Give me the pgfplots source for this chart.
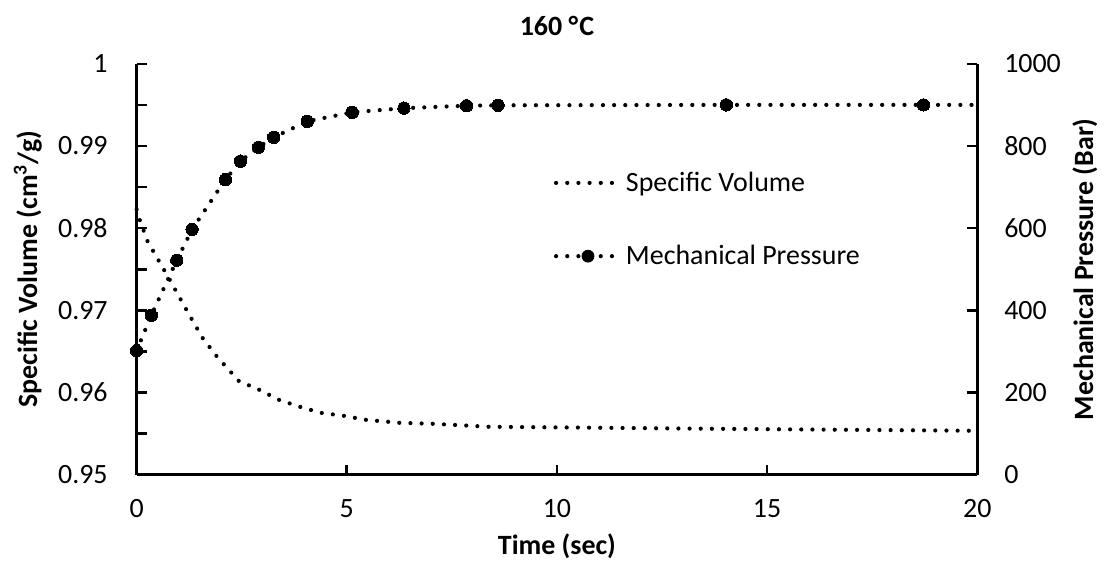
\documentclass[border=0pt]{standalone}
\usepackage{pgfplots}
\pgfplotsset{compat=1.18}
\usepackage{fontspec}
\setmainfont{Carlito}
\begin{document}
\begin{tikzpicture}[font=\fontsize{14}{16}\selectfont]
\tikzset{dotline/.style={line width=2.1pt, line cap=round, dash pattern=on 0pt off 5.6pt, black}}
\begin{axis}[
  scale only axis, width=421.5pt, height=206pt,
  xmin=0, xmax=20, ymin=0.95, ymax=1,
  axis y line*=left, axis x line*=bottom,
  axis line style={line width=1.3pt},
  xtick={0,5,10,15,20},
  ytick={0.95,0.96,0.97,0.98,0.99,1},
  minor ytick={0.955,0.965,0.975,0.985,0.995},
  yticklabels={0.95,0.96,0.97,0.98,0.99,1},
  tick style={line width=1.3pt, black},
  major tick length=5pt, minor tick length=5pt,
  tick align=inside,
  /pgf/number format/assume math mode=true,
  yticklabel style={xshift=-11pt},
  xticklabel style={yshift=-9pt},
  xlabel={\bfseries Time (sec)},
  ylabel={\bfseries Specific Volume (cm\textsuperscript{3}/g)},
  xlabel style={at={(axis description cs:0.5,-0.1748)}, anchor=center},
  ylabel style={at={(axis description cs:-0.1293,0.5)}, anchor=center},
  title={\bfseries 160 °\kern0.6pt C},
  title style={at={(axis description cs:0.5,1.063)}, anchor=center},
  clip=false,
]
\coordinate (sw) at (rel axis cs:0,0);
\coordinate (ne) at (rel axis cs:1,1);
\addplot[dotline] coordinates {
(0,0.98228) (0.07,0.98107) (0.26,0.97840) (0.78,0.97379) (1.19,0.97002)
(1.57,0.96663) (1.90,0.96444) (2.26,0.96238) (2.43,0.96141) (2.92,0.96032)
(3.39,0.95910) (3.89,0.95825) (4.39,0.95752) (4.93,0.95716) (5.46,0.95667)
(6.26,0.95631) (7.05,0.95619) (8.37,0.95583) (13.35,0.95560) (20,0.95534)
};
\end{axis}
\begin{axis}[
  scale only axis, width=421.5pt, height=206pt,
  xmin=0, xmax=20, ymin=0, ymax=1000,
  axis y line*=right, axis x line=none,
  axis line style={line width=1.3pt},
  ytick={0,200,400,600,800,1000},
  tick style={line width=1.3pt, black},
  major tick length=5pt,
  tick align=inside,
  /pgf/number format/assume math mode=true,
  /pgf/number format/1000 sep={},
  yticklabel style={xshift=10pt},
  ylabel={\bfseries Mechanical Pressure (Bar)},
  ylabel style={at={(axis description cs:1.128,0.5)}, anchor=center},
  legend style={draw=none, fill=none, at={(0.496,0.748)}, anchor=north west,
    font=\fontsize{14}{16}\selectfont, row sep=21.5pt, inner sep=0pt},
  legend cell align=left,
  legend image code/.code={\draw[#1] (0pt,0pt) -- (32pt,0pt);},
  clip=false,
]
\addlegendimage{dotline}
\addlegendentry{Specific Volume}
\addlegendimage{legend image code/.code={\draw[dotline] (0pt,0pt) -- (32pt,0pt); \fill[black] (16pt,0pt) circle (3pt);}}
\addlegendentry{Mechanical Pressure}
\addplot[dotline, mark=*, mark size=3.1pt, mark options={solid, fill=black, line width=0pt},
  mark indices={1,...,15}] coordinates {
(0,302) (0.35,388) (0.956,522) (1.32,597) (2.11,718) (2.47,763) (2.90,797)
(3.26,821) (4.06,860) (5.13,882) (6.36,892) (7.85,898) (8.6,899) (14.03,900)
(18.72,900) (20,900)
};
\end{axis}
\path ([shift={(-68.5pt,-45pt)}]sw) rectangle ([shift={(62pt,32pt)}]ne);
\end{tikzpicture}
\end{document}
